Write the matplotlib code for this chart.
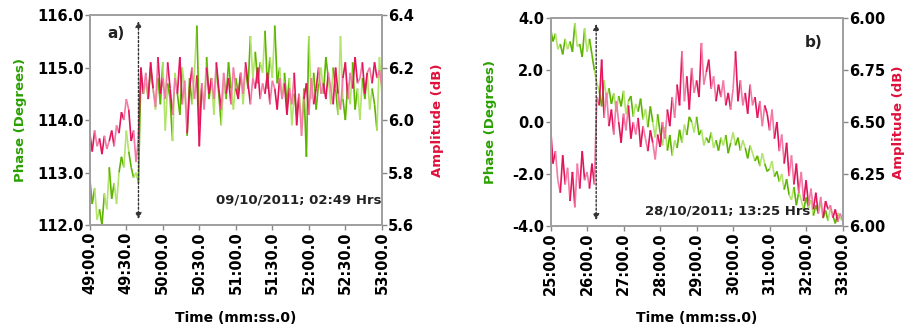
import matplotlib
matplotlib.use('Agg')
import matplotlib.pyplot as plt
import numpy as np
from matplotlib.collections import LineCollection

plt.rcParams.update({
    "font.family": "DejaVu Sans",
    "font.weight": "bold",
    "axes.edgecolor": "#a0a0a0",
    "axes.linewidth": 1.3,
})

# panel a: samples every 2 s from 49:00.0
a_start, a_step = 0, 2
phase_a = [112.9, 112.4, 112.7, 112.1, 112.3, 112.0,
           112.6, 112.3, 113.1, 112.5, 112.8,
           112.4, 113.0, 113.3, 113.1, 113.8,
           113.4, 113.1, 112.9, 113.0, 112.8,
           114.9, 114.5, 114.7, 114.4, 115.0,
           114.6, 114.2, 114.8, 114.3, 115.1,
           113.8, 114.7, 114.4, 113.6, 114.9,
           114.5, 114.1, 115.0, 114.6, 113.7,
           114.8, 114.3, 114.9, 115.8, 113.9,
           114.6, 114.3, 115.2, 114.4, 114.8,
           114.1, 115.0, 114.5, 113.9, 114.7,
           114.4, 115.1, 114.6, 114.2, 114.8,
           114.5, 114.9, 114.3, 115.0, 114.6,
           115.6, 114.8, 115.3, 114.7, 115.1,
           114.9, 115.7, 114.6, 115.2, 114.8,
           115.8, 114.7, 115.0, 114.4, 114.9,
           114.3, 114.8, 113.9, 114.5, 114.1,
           114.5, 113.9, 114.6, 113.3, 115.6,
           114.4, 114.9, 114.2, 114.7, 115.0,
           114.5, 115.2, 114.8, 114.3, 115.0,
           114.6, 114.1, 115.6, 114.4, 114.0,
           114.7, 114.3, 115.1, 114.2, 114.6,
           114.0, 114.8, 114.4, 114.9, 114.2,
           114.6, 114.3, 113.8, 115.2, 114.5]
amp_a = [5.95, 5.88, 5.96, 5.90, 5.93, 5.87,
         5.94, 5.89, 5.92, 5.96, 5.90,
         5.98, 5.95, 6.03, 6.00, 6.08,
         6.04, 5.92, 5.96, 5.84, 5.93,
         6.20, 6.10, 6.18, 6.08, 6.22,
         6.12, 6.05, 6.24, 6.10, 6.16,
         6.08, 6.22, 6.12, 6.02, 6.16,
         6.10, 6.24, 6.06, 6.15, 5.95,
         6.12, 6.20, 6.08, 6.17, 5.90,
         6.14, 6.04, 6.20, 6.10, 6.16,
         6.08, 6.22, 6.12, 6.04, 6.18,
         6.10, 6.16, 6.06, 6.20, 6.12,
         6.08, 6.18, 6.10, 6.22, 6.14,
         6.06, 6.16, 6.12, 6.20, 6.08,
         6.14, 6.10, 6.18, 6.06, 6.15,
         6.12, 6.04, 6.16, 6.08, 6.14,
         6.02, 6.12, 6.06, 6.18, 5.98,
         6.10, 5.94, 6.08, 6.14, 6.02,
         6.16, 6.06, 6.12, 6.20, 6.10,
         6.14, 6.08, 6.18, 6.12, 6.06,
         6.20, 6.10, 6.04, 6.16, 6.22,
         6.08, 6.18, 6.12, 6.24, 6.14,
         6.16, 6.22, 6.10, 6.18, 6.20,
         6.14, 6.22, 6.16, 6.19, 6.13]
a_ticks = [0, 30, 60, 90, 120, 150, 180, 210, 240]
a_ticklabels = ['49:00.0', '49:30.0', '50:00.0', '50:30.0', '51:00.0',
                '51:30.0', '52:00.0', '52:30.0', '53:00.0']
a_event = 40
a_phase_ticks = [112, 113, 114, 115, 116]
a_phase_labels = ['112.0', '113.0', '114.0', '115.0', '116.0']
a_amp_ticks = [5.6, 5.8, 6.0, 6.2, 6.4]
a_amp_labels = ['5.6', '5.8', '6.0', '6.2', '6.4']

# panel b: samples every 4 s from 25:00.0
b_start, b_step = 0, 4
phase_b = [3.6, 3.1, 3.4, 2.8, 3.0,
           2.6, 3.2, 2.8, 3.1, 2.7,
           3.8, 2.9, 3.0, 2.5, 3.6,
           2.7, 3.2, 2.6, 2.0, 1.5,
           1.2, 0.6, 1.6, 0.9, 1.3,
           0.7, 1.1, 0.4, 1.0, 0.6,
           1.2, 0.3, 0.8, 1.0, 0.2,
           0.7, 0.4, 0.9, 0.1, 0.5,
           -0.2, 0.6, 0.0, -0.6, 0.3,
           -0.4, -0.9, -0.2, -1.1, -0.5,
           -1.3, -0.7, -1.0, -0.3, -0.8,
           -0.1, -0.5, 0.2, 0.0, -0.4,
           0.2, -0.5, -0.3, -0.9, -0.6,
           -0.8, -0.4, -1.0, -0.7, -1.1,
           -0.6, -0.9, -0.5, -1.2, -0.8,
           -0.4, -0.9, -0.6, -1.1, -0.7,
           -1.0, -1.4, -0.9, -1.2, -1.5,
           -1.3, -1.7, -1.2, -1.6, -1.9,
           -1.8, -1.5, -2.1, -1.9, -2.3,
           -2.0, -2.6, -2.2, -2.8, -3.0,
           -2.5, -3.2, -2.7, -3.0, -3.4,
           -2.9, -3.3, -3.0, -3.6, -3.2,
           -3.5, -3.1, -3.7, -3.4, -3.8,
           -3.3, -3.6, -3.9, -3.5, -3.7,
           -3.8]
amp_b = [6.48, 6.30, 6.36, 6.22, 6.16,
         6.34, 6.20, 6.28, 6.12, 6.26,
         6.09, 6.30, 6.18, 6.36, 6.22,
         6.26, 6.18, 6.30, 6.20, 6.62,
         6.58, 6.80, 6.52, 6.64, 6.48,
         6.56, 6.44, 6.60, 6.50, 6.40,
         6.54, 6.46, 6.58, 6.42, 6.50,
         6.44, 6.52, 6.38, 6.48, 6.42,
         6.36, 6.46, 6.40, 6.32, 6.44,
         6.38, 6.50, 6.42, 6.56, 6.48,
         6.62, 6.52, 6.68, 6.58, 6.84,
         6.60, 6.72, 6.56, 6.76, 6.64,
         6.70, 6.62, 6.88, 6.68, 6.74,
         6.80, 6.66, 6.72, 6.60, 6.68,
         6.62, 6.70, 6.58, 6.64, 6.56,
         6.66, 6.84, 6.60, 6.70, 6.58,
         6.64, 6.54, 6.68, 6.58, 6.62,
         6.52, 6.60, 6.48, 6.58, 6.54,
         6.46, 6.56, 6.42, 6.50, 6.36,
         6.44, 6.30, 6.40, 6.24, 6.34,
         6.20, 6.30, 6.16, 6.26, 6.12,
         6.22, 6.10, 6.18, 6.08, 6.16,
         6.06, 6.14, 6.04, 6.12, 6.08,
         6.10, 6.04, 6.08, 6.02, 6.06,
         6.03]
b_ticks = [0, 60, 120, 180, 240, 300, 360, 420, 480]
b_ticklabels = ['25:00.0', '26:00.0', '27:00.0', '28:00.0', '29:00.0',
                '30:00.0', '31:00.0', '32:00.0', '33:00.0']
b_event = 75
b_phase_ticks = [-4, -2, 0, 2, 4]
b_phase_labels = ['-4.0', '-2.0', '0.0', '2.0', '4.0']
b_amp_ticks = [6.0, 6.25, 6.5, 6.75, 7.0]
b_amp_labels = ['6.00', '6.25', '6.50', '6.75', '6.00']

green1, green2 = '#5db400', '#b2e36a'
red1, red2 = '#e2145a', '#f27aa6'


def two_tone(ax, t, y, c1, c2):
    pts = np.column_stack([t, y])
    segs = np.stack([pts[:-1], pts[1:]], axis=1)
    cols = [c1 if (i // 2) % 2 == 0 else c2 for i in range(len(segs))]
    ax.add_collection(LineCollection(segs, colors=cols, linewidths=1.2))


def panel(rect, t, phase, amp, ticks, ticklabels, event, pticks, plabels,
          aticks, alabels, tag, tagxy, date, datexy, lab_l, lab_r):
    ax = fig.add_axes(rect)
    ax2 = ax.twinx()
    two_tone(ax, t, phase, green1, green2)
    two_tone(ax2, t, amp, red1, red2)
    ax.set_xlim(ticks[0], ticks[-1])
    ax.set_ylim(pticks[0], pticks[-1])
    ax2.set_ylim(aticks[0], aticks[-1])
    ax.set_xticks(ticks)
    ax.set_xticklabels(ticklabels, rotation=90)
    ax.set_yticks(pticks)
    ax.set_yticklabels(plabels)
    ax2.set_yticks(aticks)
    ax2.set_yticklabels(alabels)
    for a in (ax, ax2):
        a.tick_params(direction='out', length=3.5, width=1, color='#888888',
                      labelsize=10.5, pad=1)
        for s in a.spines.values():
            s.set_color('#a0a0a0')
    ax.set_xlabel('Time (mm:ss.0)', fontsize=10, fontweight='bold')
    ax.xaxis.set_label_coords(0.5, -0.41)
    ax.set_ylabel('Phase (Degrees)', color='#2aa000', fontsize=9.5,
                  fontweight='bold')
    ax.yaxis.set_label_coords(lab_l, 0.5)
    ax2.set_ylabel('Amplitude (dB)', color='#e0103c', fontsize=9.5,
                   fontweight='bold')
    ax2.yaxis.set_label_coords(lab_r, 0.5)
    ax2.annotate('', xy=(event, 0.985), xytext=(event, 0.015),
                 xycoords=('data', 'axes fraction'),
                 textcoords=('data', 'axes fraction'),
                 arrowprops=dict(arrowstyle='<|-|>', linestyle=(0, (1.5, 1.5)),
                                 color='#333333', lw=1.0, mutation_scale=9),
                 zorder=10)
    ax2.text(tagxy[0], tagxy[1], tag, transform=ax2.transAxes, fontsize=11,
             fontweight='bold', ha='center', va='center', color='#222222')
    ax2.text(datexy[0], datexy[1], date, transform=ax2.transAxes, fontsize=9.5,
             fontweight='bold', ha='right', va='center', color='#222222',
             zorder=11)
    return ax, ax2


fig = plt.figure(figsize=(9.07, 3.28), dpi=100)

ta = a_start + a_step * np.arange(len(phase_a))
tb = b_start + b_step * np.arange(len(phase_b))

panel([0.099, 0.314, 0.322, 0.640], ta, phase_a, amp_a, a_ticks, a_ticklabels,
      a_event, a_phase_ticks, a_phase_labels, a_amp_ticks, a_amp_labels,
      'a)', (0.09, 0.91), '09/10/2011; 02:49 Hrs', (1.0, 0.12), -0.215, 1.17)
panel([0.607, 0.311, 0.322, 0.634], tb, phase_b, amp_b, b_ticks, b_ticklabels,
      b_event, b_phase_ticks, b_phase_labels, b_amp_ticks, b_amp_labels,
      'b)', (0.90, 0.88), '28/10/2011; 13:25 Hrs', (0.89, 0.07), -0.185, 1.168)

fig.savefig('out.png', dpi=100)
